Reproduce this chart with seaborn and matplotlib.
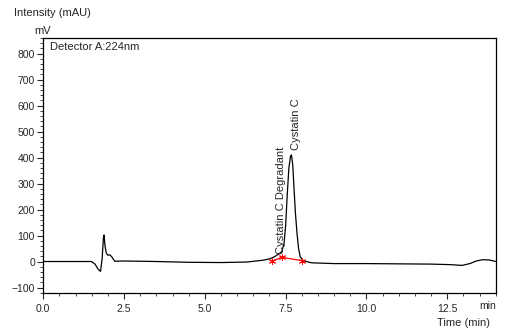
import numpy as np
import pandas as pd
import matplotlib
matplotlib.use("Agg")
import matplotlib.pyplot as plt
import seaborn as sns
from matplotlib.ticker import MultipleLocator

# chromatogram (time in min, intensity in mV)
tijd = [0.0, 1.0, 1.49, 1.6, 1.7, 1.77, 1.82, 1.86, 1.88, 1.91, 1.95, 2.0, 2.06, 2.12,
        2.21, 2.5, 3.5, 4.5, 5.5, 6.3, 6.8, 7.0, 7.1, 7.2, 7.3, 7.38, 7.45, 7.5,
        7.55, 7.6, 7.65, 7.68, 7.72, 7.76, 7.8, 7.85, 7.9, 7.95, 8.05, 8.3, 9.0,
        10.0, 11.0, 12.0, 12.6, 12.96, 13.2, 13.4, 13.6, 13.8, 14.0]
signaal = [0, 0, 0, -10, -30, -38, 10, 90, 102, 60, 32, 24, 26, 18,
           1, 2, 0, -3, -4, -2, 5, 10, 15, 22, 30, 38, 70, 140,
           260, 360, 405, 410, 370, 280, 190, 110, 50, 18, 3, -5, -8,
           -8, -9, -10, -12, -15, -8, 2, 7, 6, 0]

# piekgrenzen (rode sterretjes)
grens_tijd = [7.08, 7.38, 8.02]
grens_signaal = [1, 16, 3]

piek_namen = ["Cystatin C Degradant", "Cystatin C"]
piek_x = [7.36, 7.83]
piek_y = [30, 430]

data = pd.DataFrame({"tijd": tijd, "signaal": signaal})
grenzen = pd.DataFrame({"tijd": grens_tijd, "signaal": grens_signaal})

sns.set_style("ticks")
plt.rcParams["font.family"] = ["Liberation Sans", "DejaVu Sans"]

fig = plt.figure(figsize=(5.1, 3.36), dpi=100)
ax = fig.add_axes([43.3 / 510, 1 - 292.7 / 336, (495.7 - 43.3) / 510, (292.7 - 38) / 336])

sns.lineplot(data=data, x="tijd", y="signaal", color="black", linewidth=0.9, ax=ax)
sns.lineplot(data=grenzen, x="tijd", y="signaal", color="red", linewidth=0.9,
             marker=(6, 2, 0), markersize=5, markeredgecolor="red", markeredgewidth=0.7, ax=ax)

for naam, x, y in zip(piek_namen, piek_x, piek_y):
    ax.text(x, y, naam, rotation=90, ha="center", va="bottom", fontsize=8)

ax.set_xlim(0, 14)
ax.set_ylim(-120, 860)
ax.xaxis.set_minor_locator(MultipleLocator(0.5))
ax.yaxis.set_minor_locator(MultipleLocator(20))
ax.set_xticks([0, 2.5, 5.0, 7.5, 10.0, 12.5])
ax.set_xticklabels(["0.0", "2.5", "5.0", "7.5", "10.0", "12.5"])
ax.set_yticks(range(-100, 801, 100))
ax.tick_params(which="major", length=4, width=0.8, labelsize=7.5, pad=2)
ax.tick_params(axis="x", which="major", pad=4)
ax.tick_params(which="minor", length=2.5, width=0.6)
ax.set_xlabel("")
ax.set_ylabel("")
for s in ax.spines.values():
    s.set_linewidth(0.9)
    s.set_color("black")

ax.text(7 / 452, 1 - 9 / 255, "Detector A:224nm", transform=ax.transAxes,
        ha="left", va="center", fontsize=8)
fig.text(14 / 510, 1 - 13 / 336, "Intensity (mAU)", ha="left", va="center", fontsize=8)
fig.text(43 / 510, 1 - 31 / 336, "mV", ha="center", va="center", fontsize=8)
fig.text(496 / 510, 1 - 306 / 336, "min", ha="right", va="center", fontsize=7.5)
fig.text(490 / 510, 1 - 323 / 336, "Time (min)", ha="right", va="center", fontsize=8)

fig.savefig("out.png", dpi=100)
